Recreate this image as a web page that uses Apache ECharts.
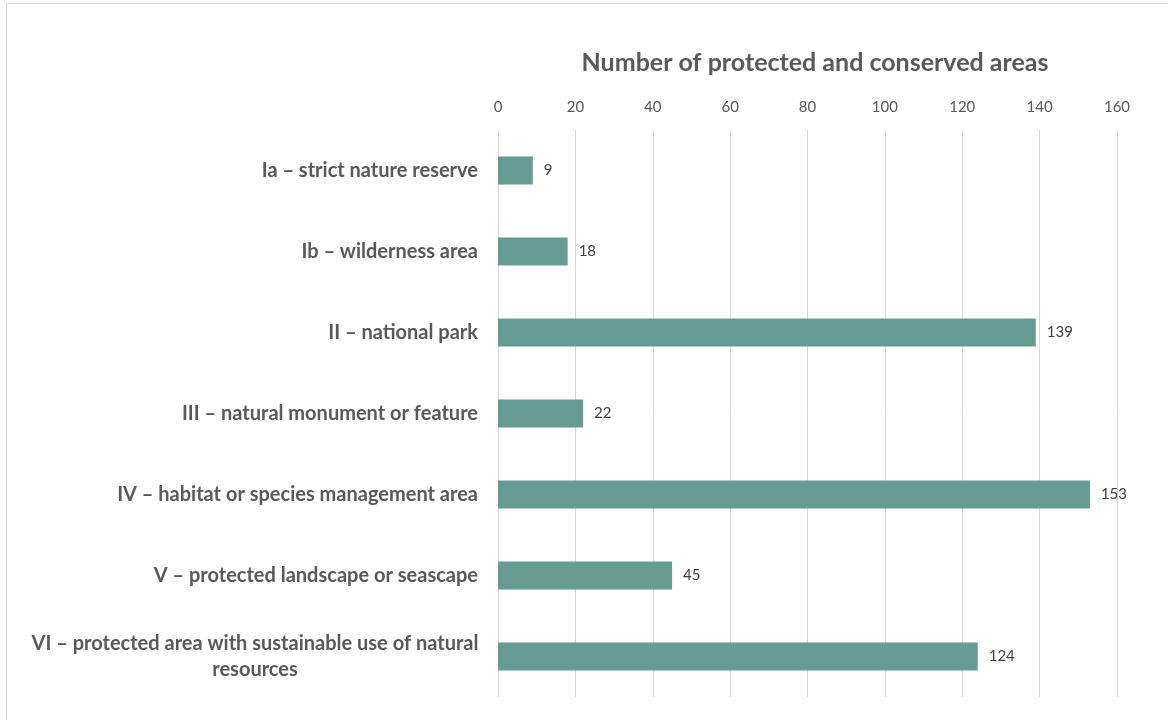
<!DOCTYPE html>
<html>
<head>
<meta charset="utf-8">
<script src="https://cdn.jsdelivr.net/npm/echarts@6/dist/echarts.min.js"></script>
<style>html,body{margin:0;padding:0;background:#fff}#c{width:1168px;height:720px}</style>
</head>
<body>
<div id="c"></div>
<script>
const title = 'Number of protected and conserved areas';
const categories = [
  'Ia – strict nature reserve',
  'Ib – wilderness area',
  'II – national park',
  'III – natural monument or feature',
  'IV – habitat or species management area',
  'V – protected landscape or seascape',
  'VI – protected area with sustainable use of natural\nresources'
];
const values = [9, 18, 139, 22, 153, 45, 124];
const xTicks = { min: 0, max: 160, interval: 20 };

const font = 'Lato, "Open Sans", sans-serif';
const chart = echarts.init(document.getElementById('c'), null, { renderer: 'canvas' });
chart.setOption({
  animation: false,
  backgroundColor: '#fff',
  title: {
    text: title,
    left: 810, top: 45, textAlign: 'center',
    textStyle: { fontFamily: font, fontSize: 25, fontWeight: 'bold', color: '#595959' }
  },
  graphic: [{
    type: 'rect', silent: true,
    shape: { x: 6.5, y: 3.5, width: 1170, height: 730 },
    style: { fill: 'none', stroke: '#d9d9d9', lineWidth: 1 }
  }],
  grid: { left: 498, right: 51, top: 130, bottom: 23, containLabel: false },
  xAxis: {
    type: 'value', position: 'top',
    min: xTicks.min, max: xTicks.max, interval: xTicks.interval,
    axisLine: { show: false }, axisTick: { show: false },
    axisLabel: { color: '#595959', fontFamily: font, fontSize: 15, margin: 15 },
    splitLine: { show: true, lineStyle: { color: '#d9d9d9', width: 1 } }
  },
  yAxis: {
    type: 'category', inverse: true, data: categories,
    axisLine: { show: false }, axisTick: { show: false },
    axisLabel: {
      margin: 20, color: '#595959', fontFamily: font, fontSize: 20, fontWeight: 'bold',
      formatter: function (v) {
        if (v.indexOf('\n') >= 0) {
          return v.split('\n').map(function (l) { return '{c|' + l + '}'; }).join('\n');
        }
        return v;
      },
      rich: { c: { width: 446, align: 'center', fontFamily: font, fontSize: 20, fontWeight: 'bold', color: '#595959', lineHeight: 26 } }
    }
  },
  series: [{
    type: 'bar', data: values, barWidth: 28,
    itemStyle: { color: '#669b93' },
    label: { show: true, position: 'right', distance: 11, color: '#404040', fontFamily: font, fontSize: 15 }
  }]
});
</script>
</body>
</html>
